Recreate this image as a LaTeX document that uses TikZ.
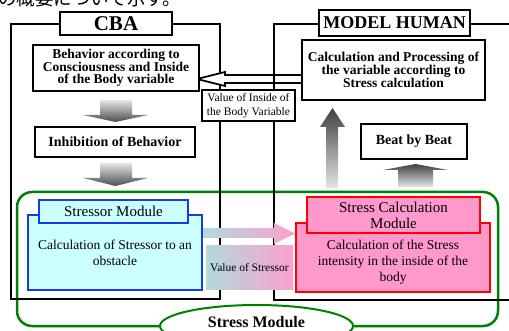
\documentclass[tikz,border=0pt]{standalone}
\usepackage{fontspec}
\setmainfont{Liberation Serif}
\newfontfamily\cjk{Noto Sans CJK JP}
\usetikzlibrary{shapes.geometric}
\definecolor{stressorfill}{HTML}{CCFFFF}
\definecolor{stressorline}{RGB}{20,60,230}
\definecolor{calcfill}{HTML}{FF99CC}
\definecolor{calcline}{HTML}{FF0000}
\definecolor{modulegreen}{HTML}{008000}
\definecolor{valueteal}{RGB}{178,218,220}
\definecolor{valuepink}{RGB}{250,160,205}

\begin{document}
\begin{tikzpicture}[x=1pt,y=-1pt,
  frameline/.style={line width=2.5pt},
  titlebox/.style={draw,line width=2pt,fill=white,inner sep=0pt,font=\bfseries\fontsize{21}{21}\selectfont},
  blackbox/.style={draw,line width=2pt,fill=white,align=center,inner sep=0pt,font=\bfseries\fontsize{13.5}{12.5}\selectfont},
  valuebox/.style={inner sep=0pt,align=center,font=\fontsize{11.5}{14.5}\selectfont},
  bluebox/.style={draw=stressorline,line width=2pt,fill=stressorfill,inner sep=0pt,align=center},
  redbox/.style={draw=calcline,line width=2pt,fill=calcfill,inner sep=0pt,align=center},
  downarrow/.style={top color=gray!20,bottom color=black!70},
  uparrow/.style={top color=black!75,bottom color=gray!20}]
\useasboundingbox (0,0) rectangle (509,331);
\clip (0,0) rectangle (509,331);
\node[anchor=base west,inner sep=0pt,font=\cjk\fontsize{18.5}{18.5}\selectfont] (jptext) at (-2,6) {の概要について示す。};
\draw[modulegreen,line width=2.5pt,rounded corners=15pt] (17,192) rectangle (498,326);
\draw[frameline] (11,24) rectangle (220,299);
\draw[line width=1.8pt,fill=white] (302,75) -- (225,75) -- (225,72) -- (197,79) -- (225,86) -- (225,83) -- (302,83);
\draw[frameline] (515,24) -- (274,24) -- (274,300) -- (515,300);
\node[titlebox,minimum width=112pt,minimum height=23pt] (cbatitle) at (116,23.5) {CBA};
\node[titlebox,minimum width=151pt,minimum height=26pt,font=\bfseries\fontsize{18}{18}\selectfont] (humantitle) at (394.5,23) {MODEL HUMAN};
\node[blackbox,minimum width=166pt,minimum height=46pt] (behavior) at (116,68) {Behavior according to\\Consciousness and Inside\\of the Body variable};
\node[blackbox,minimum width=183pt,minimum height=60pt,font=\bfseries\fontsize{13.5}{13}\selectfont] (calc) at (393.5,70) {Calculation and Processing of\\the variable according to\\Stress calculation};
\node[valuebox,draw,line width=1.2pt,fill=white,minimum width=93pt,minimum height=31pt] (insidevalue) at (248.5,105.5) {Value of Inside of\\the Body Variable};
\node[blackbox,minimum width=160pt,minimum height=30pt,font=\bfseries\fontsize{14}{14}\selectfont] (inhibition) at (115,142) {Inhibition of Behavior};
\node[blackbox,minimum width=106pt,minimum height=35pt,font=\bfseries\fontsize{14}{14}\selectfont] (beat) at (414,141.5) {Beat by Beat};
\shade[downarrow] (100,100) -- (132,100) -- (132,115) -- (148,115) -- (115.5,122) -- (83,115) -- (100,115) -- cycle;
\shade[downarrow] (100,163) -- (132,163) -- (132,178) -- (148,178) -- (115.5,186) -- (83,178) -- (100,178) -- cycle;
\shade[uparrow] (326,188) -- (338,188) -- (338,127) -- (345,127) -- (332.5,108) -- (320,127) -- (326,127) -- cycle;
\shade[uparrow] (398,187) -- (433,187) -- (433,170) -- (448,170) -- (415.5,164) -- (383,170) -- (398,170) -- cycle;
\node[bluebox,minimum width=174pt,minimum height=75pt,font=\fontsize{13.5}{16}\selectfont] (stressor) at (115,252.5) {Calculation of Stressor to an\\obstacle};
\node[bluebox,minimum width=149pt,minimum height=23pt,font=\fontsize{15}{15}\selectfont] (stressorhead) at (113.5,211.5) {Stressor Module};
\node[redbox,minimum width=194pt,minimum height=69pt] (stresscalc) at (393,257.5) {};
\node[align=center,inner sep=0pt,font=\fontsize{13.5}{16}\selectfont] (stresscalctext) at (393,262) {Calculation of the Stress\\intensity in the inside of the\\body};
\node[redbox,minimum width=173pt,minimum height=36pt,font=\fontsize{15}{16}\selectfont] (stresscalchead) at (393.5,215) {Stress Calculation\\Module};
\shade[left color=valueteal,right color=valuepink] (203,228) -- (274,228) -- (274,223) -- (295,233.5) -- (274,244) -- (274,238) -- (203,238) -- cycle;
\node[valuebox,left color=valueteal,right color=valuepink,minimum width=87pt,minimum height=44pt] (stressorvalue) at (249.5,268) {Value of Stressor};
\node[ellipse,draw=modulegreen,line width=2pt,fill=white,minimum width=193pt,minimum height=42pt] (stressmodule) at (256.5,326) {};
\node[inner sep=0pt,font=\bfseries\fontsize{16}{16}\selectfont] (stressmodulelabel) at ([yshift=4pt]stressmodule.center) {Stress Module};
\end{tikzpicture}
\end{document}
